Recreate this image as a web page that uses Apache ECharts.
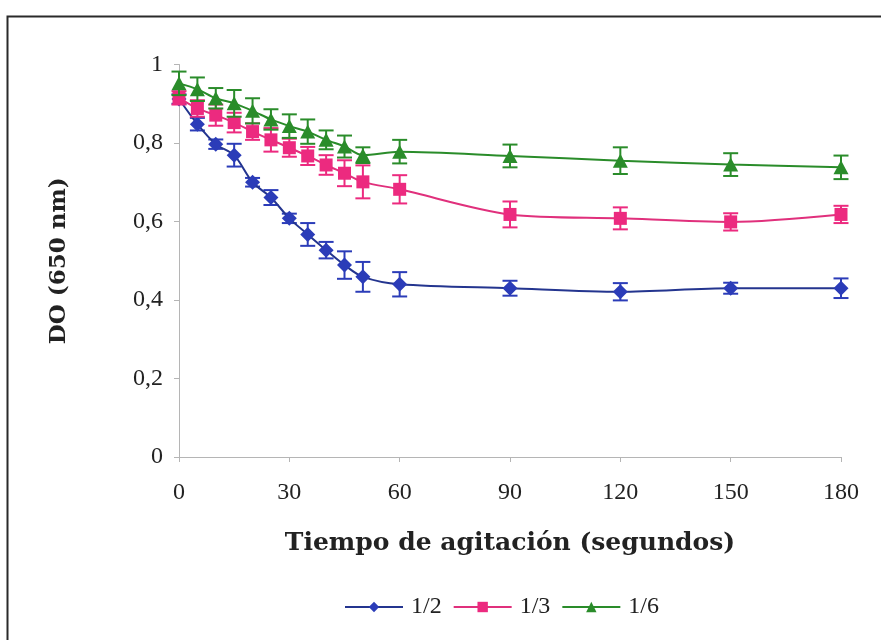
<!DOCTYPE html>
<html>
<head>
<meta charset="utf-8">
<script src="https://cdn.jsdelivr.net/npm/echarts@6/dist/echarts.min.js"></script>
<style>html,body{margin:0;padding:0;background:#fff;}#c{width:881px;height:640px;}</style>
</head>
<body>
<div id="c"></div>
<script>
const times = [0,5,10,15,20,25,30,35,40,45,50,60,90,120,150,180];
const od12 = [0.912,0.848,0.797,0.769,0.700,0.661,0.608,0.567,0.527,0.489,0.459,0.440,0.430,0.421,0.430,0.430];
const od13 = [0.915,0.888,0.871,0.852,0.829,0.808,0.788,0.767,0.744,0.723,0.701,0.682,0.618,0.608,0.599,0.618];
const od16 = [0.952,0.937,0.914,0.901,0.882,0.860,0.843,0.829,0.808,0.791,0.769,0.778,0.767,0.755,0.745,0.738];
const err12 = [0.012,0.016,0.012,0.029,0.011,0.019,0.012,0.029,0.021,0.035,0.038,0.031,0.019,0.022,0.014,0.025];
const err13 = [0.017,0.021,0.027,0.025,0.021,0.030,0.023,0.023,0.025,0.033,0.042,0.036,0.033,0.028,0.022,0.022];
const err16 = [0.030,0.030,0.026,0.034,0.032,0.026,0.030,0.031,0.024,0.028,0.020,0.030,0.029,0.034,0.029,0.030];
const seriesNames = ['1/2','1/3','1/6'];

const colors = ['#2b3cb8','#ec2a7f','#2a8c2a'];
const lineColors = ['#24358f','#e0307c','#2a8c2a'];
const symbols = ['diamond','rect','triangle'];
const symSizes = [[15,15],[13,13],[15,14]];
const vals = [od12, od13, od16];
const errs = [err12, err13, err16];

const chart = echarts.init(document.getElementById('c'));
const FONT = 'Liberation Serif';
const TFONT = 'DejaVu Serif';
const series = [];
seriesNames.forEach((name, i) => {
  const col = colors[i];
  series.push({
    name: name + '_err',
    type: 'custom',
    silent: true,
    z: 3 + i * 2,
    data: times.map((t, k) => [t, vals[i][k], errs[i][k]]),
    renderItem: function (params, api) {
      const x = api.value(0), y = api.value(1), e = api.value(2);
      const top = api.coord([x, y + e]);
      const bot = api.coord([x, y - e]);
      const hw = 7.5;
      const st = { stroke: col, lineWidth: 2 };
      return {
        type: 'group',
        children: [
          { type: 'line', shape: { x1: top[0], y1: top[1], x2: bot[0], y2: bot[1] }, style: st },
          { type: 'line', shape: { x1: top[0] - hw, y1: top[1], x2: top[0] + hw, y2: top[1] }, style: st },
          { type: 'line', shape: { x1: bot[0] - hw, y1: bot[1], x2: bot[0] + hw, y2: bot[1] }, style: st }
        ]
      };
    }
  });
  series.push({
    name: name,
    type: 'line',
    smooth: 0.3,
    z: 4 + i * 2,
    data: times.map((t, k) => [t, vals[i][k]]),
    symbol: symbols[i],
    symbolSize: symSizes[i],
    showSymbol: true,
    itemStyle: { color: col },
    lineStyle: { color: lineColors[i], width: 2 }
  });
});

chart.setOption({
  animation: false,
  backgroundColor: '#ffffff',
  graphic: [{
    type: 'rect',
    shape: { x: 7.5, y: 16.5, width: 940, height: 700 },
    style: { fill: 'none', stroke: '#2a2a2a', lineWidth: 2 },
    silent: true
  }],
  grid: { left: 179, right: 40, top: 64.5, bottom: 183, containLabel: false },
  legend: {
    data: seriesNames,
    left: 339,
    top: 590,
    itemWidth: 58,
    itemHeight: 13,
    itemGap: 11,
    textStyle: { fontFamily: FONT, fontSize: 24, color: '#222', padding: [0, 0, 0, 3] }
  },
  xAxis: {
    type: 'value',
    min: 0, max: 180, interval: 30,
    name: 'Tiempo de agitación (segundos)',
    nameLocation: 'middle',
    nameGap: 74,
    nameTextStyle: { fontFamily: TFONT, fontSize: 25, fontWeight: 'bold', color: '#222' },
    axisLine: { show: true, onZero: false, lineStyle: { color: '#b5b5b5', width: 1 } },
    axisTick: { show: true, length: 5, lineStyle: { color: '#b5b5b5' } },
    axisLabel: { fontFamily: FONT, fontSize: 24, color: '#222', margin: 24,
      formatter: v => String(v) },
    splitLine: { show: false }
  },
  yAxis: {
    type: 'value',
    min: 0, max: 1, interval: 0.2,
    name: 'DO (650 nm)',
    nameLocation: 'middle',
    nameGap: 108,
    nameRotate: 90,
    nameTextStyle: { fontFamily: TFONT, fontSize: 23, fontWeight: 'bold', color: '#222' },
    axisLine: { show: true, lineStyle: { color: '#b5b5b5', width: 1 } },
    axisTick: { show: true, length: 5, lineStyle: { color: '#b5b5b5' } },
    axisLabel: { fontFamily: FONT, fontSize: 24, color: '#222', margin: 16,
      formatter: v => String(Math.round(v * 10) / 10).replace('.', ',') },
    splitLine: { show: false }
  },
  series: series
});
</script>
</body>
</html>
